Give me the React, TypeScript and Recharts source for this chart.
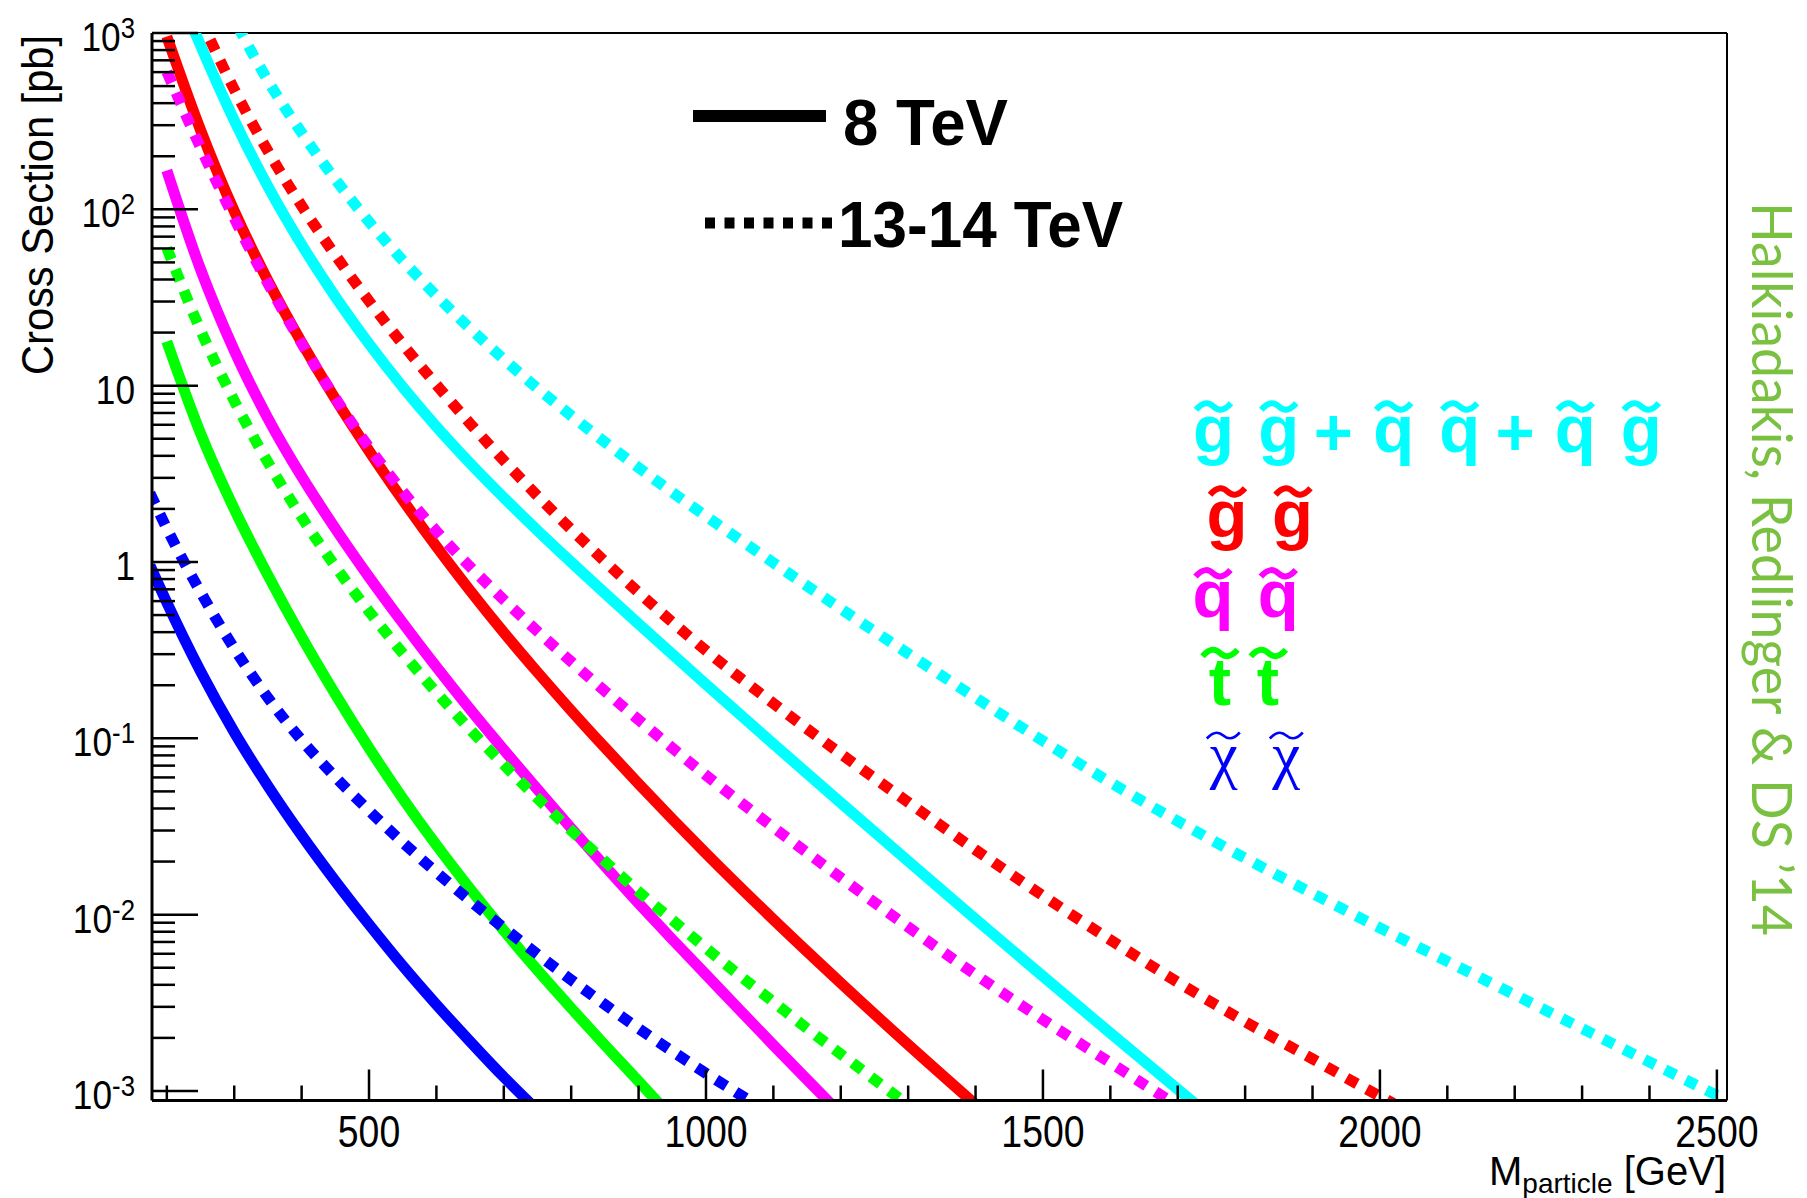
import { LineChart, Line, XAxis, YAxis, ReferenceLine } from 'recharts'

// SUSY pair production cross sections
// masses in GeV, cross sections in pb

// chargino/neutralino (blue)
const CHI8_M = [175, 200, 250, 300, 350, 400, 450, 500, 550, 600, 650, 700, 750]
const CHI8_XS = [0.955, 0.589, 0.24, 0.1084, 0.0537, 0.0282, 0.0155, 0.00881, 0.00513, 0.00309, 0.00191, 0.0012, 0.000776]
const CHI13_M = [175, 200, 250, 300, 350, 400, 450, 500, 550, 600, 650, 700, 750, 800, 850, 900, 950, 1000, 1050, 1080]
const CHI13_XS = [2.455, 1.549, 0.676, 0.3236, 0.1698, 0.0977, 0.0603, 0.0389, 0.0257, 0.01738, 0.012, 0.00841, 0.00596, 0.00427, 0.00309, 0.00226, 0.00168, 0.00126, 0.000955, 0.000813]

// stop (green)
const STOP8_M = [200, 250, 300, 350, 400, 450, 500, 550, 600, 650, 700, 750, 800, 850, 900, 930]
const STOP8_XS = [17.8, 5.37, 2.0, 0.841, 0.376, 0.178, 0.0881, 0.0457, 0.0248, 0.014, 0.00813, 0.00484, 0.00295, 0.00182, 0.001135, 0.000851]
const STOP13_M = [200, 250, 300, 350, 400, 450, 500, 550, 600, 650, 700, 750, 800, 850, 900, 950, 1000, 1050, 1100, 1150, 1200, 1250, 1300]
const STOP13_XS = [60.3, 20.65, 8.22, 3.673, 1.799, 0.944, 0.525, 0.304, 0.182, 0.1122, 0.0708, 0.0457, 0.03, 0.02007, 0.0135, 0.00933, 0.00646, 0.00452, 0.0032, 0.00226, 0.00162, 0.00116, 0.000832]

// squark (magenta)
const SQ8_M = [200, 250, 300, 350, 400, 450, 500, 550, 600, 650, 700, 750, 800, 850, 900, 950, 1000, 1050, 1100, 1150, 1200]
const SQ8_XS = [166, 45.7, 15.85, 6.53, 3.055, 1.549, 0.822, 0.452, 0.254, 0.1462, 0.0861, 0.0513, 0.0309, 0.01884, 0.01161, 0.00724, 0.00457, 0.00288, 0.00182, 0.00116, 0.000741]
const SQ13_M = [200, 250, 300, 350, 400, 450, 500, 550, 600, 650, 700, 800, 900, 1000, 1100, 1200, 1300, 1400, 1500, 1600, 1700]
const SQ13_XS = [603, 224, 89.1, 38.0, 17.4, 8.51, 4.467, 2.512, 1.496, 0.94, 0.61, 0.272, 0.1274, 0.0617, 0.03126, 0.0162, 0.00851, 0.00457, 0.00254, 0.001445, 0.000822]

// gluino (red)
const GL8_M = [200, 250, 300, 350, 400, 450, 500, 550, 600, 650, 700, 750, 800, 850, 900, 950, 1000, 1100, 1200, 1300, 1400]
const GL8_XS = [955, 282, 97.7, 39.4, 17.6, 8.41, 4.27, 2.25, 1.223, 0.688, 0.398, 0.237, 0.1437, 0.0886, 0.0553, 0.0349, 0.02226, 0.00939, 0.0041, 0.00183, 0.000837]
const GL13_M = [250, 300, 350, 400, 450, 500, 550, 600, 650, 700, 750, 800, 850, 900, 1000, 1100, 1200, 1300, 1400, 1500, 1600, 1700, 1800, 1900, 2000, 2020]
const GL13_XS = [1202, 479, 214, 104.7, 55.0, 30.2, 17.18, 10.12, 6.095, 3.758, 2.371, 1.531, 1.006, 0.672, 0.3145, 0.1576, 0.0817, 0.0434, 0.0233, 0.0128, 0.0072, 0.00414, 0.00247, 0.00152, 0.000933, 0.000851]

// gg + qq + qg (cyan)
const ALL8_M = [240, 250, 300, 350, 400, 450, 500, 550, 600, 650, 700, 750, 800, 900, 1000, 1100, 1200, 1300, 1400, 1500, 1600, 1700, 1730]
const ALL8_XS = [1047, 851, 320, 134.9, 63.1, 32.0, 17.28, 9.83, 5.855, 3.63, 2.317, 1.51, 0.998, 0.4457, 0.2023, 0.0929, 0.0431, 0.0201, 0.00944, 0.00447, 0.00213, 0.001023, 0.000822]
const ALL13_M = [305, 350, 400, 450, 500, 550, 600, 650, 700, 750, 800, 850, 900, 950, 1000, 1100, 1200, 1300, 1400, 1500, 1600, 1700, 1800, 1900, 2000, 2100, 2200, 2300, 2400, 2500]
const ALL13_XS = [1096, 537, 272, 147.9, 85.1, 51.3, 32.4, 21.1, 14.13, 9.66, 6.76, 4.786, 3.428, 2.483, 1.82, 0.989, 0.543, 0.302, 0.17, 0.0966, 0.0562, 0.0339, 0.0209, 0.0132, 0.00841, 0.00543, 0.00351, 0.00226, 0.00146, 0.000944]

const X_TICKS = [200, 300, 400, 500, 600, 700, 800, 900, 1000, 1100, 1200, 1300, 1400, 1500, 1600, 1700, 1800, 1900, 2000, 2100, 2200, 2300, 2400, 2500]
const Y_DECADES = [0.001, 0.01, 0.1, 1, 10, 100, 1000]
const Y_LABELS: Record<string, [string, string]> = {
  '0.001': ['10', '-3'],
  '0.01': ['10', '-2'],
  '0.1': ['10', '-1'],
  '1': ['1', ''],
  '10': ['10', ''],
  '100': ['10', '2'],
  '1000': ['10', '3'],
}

const X_MIN = 178
const X_MAX = 2515
const Y_MIN = 0.000883
const Y_MAX = 1000

// plot frame in page pixels
const W = 1807
const H = 1198
const LEFT = 152
const RIGHT = 1727
const TOP = 33
const BOTTOM = 1100.5

const BLUE = '#0000ff'
const GREEN = '#00ff00'
const MAGENTA = '#ff00ff'
const RED = '#ff0000'
const CYAN = '#00ffff'

const pts = (m: number[], xs: number[]) => m.map((v, i) => ({ m: v, xs: xs[i] }))

// solid (8 TeV) first, dotted (13-14 TeV) drawn on top
const SERIES = [
  { id: 'chi8', data: pts(CHI8_M, CHI8_XS), color: BLUE, dotted: false },
  { id: 'stop8', data: pts(STOP8_M, STOP8_XS), color: GREEN, dotted: false },
  { id: 'sq8', data: pts(SQ8_M, SQ8_XS), color: MAGENTA, dotted: false },
  { id: 'gl8', data: pts(GL8_M, GL8_XS), color: RED, dotted: false },
  { id: 'all8', data: pts(ALL8_M, ALL8_XS), color: CYAN, dotted: false },
  { id: 'chi13', data: pts(CHI13_M, CHI13_XS), color: BLUE, dotted: true },
  { id: 'stop13', data: pts(STOP13_M, STOP13_XS), color: GREEN, dotted: true },
  { id: 'sq13', data: pts(SQ13_M, SQ13_XS), color: MAGENTA, dotted: true },
  { id: 'gl13', data: pts(GL13_M, GL13_XS), color: RED, dotted: true },
  { id: 'all13', data: pts(ALL13_M, ALL13_XS), color: CYAN, dotted: true },
]

// decades plus 2..9 minor ticks
const Y_TICKS: number[] = []
Y_DECADES.forEach((d, i) => {
  Y_TICKS.push(d)
  if (i < Y_DECADES.length - 1) for (let k = 2; k <= 9; k++) Y_TICKS.push(+(d * k).toPrecision(3))
})

const FONT = '"Liberation Sans", Arial, Helvetica, sans-serif'
const SERIF = '"Liberation Serif", "Times New Roman", serif'

function YTick(props: any) {
  const { y, payload } = props
  const v = payload.value as number
  const lab = Y_LABELS[String(v)]
  const major = !!lab
  return (
    <g>
      <line x1={LEFT} x2={LEFT + (major ? 46 : 23)} y1={y} y2={y} stroke="#000" strokeWidth={2.5} />
      {major && (
        <g transform={`translate(135, ${y + 18}) scale(0.86, 1)`}>
          <text x={0} y={0} textAnchor="end" fontSize={41} fontFamily={FONT} fill="#000">
            {lab[0]}
            {lab[1] && <tspan fontSize={30} dy={-13}>{lab[1]}</tspan>}
          </text>
        </g>
      )}
    </g>
  )
}

function XTick(props: any) {
  const { x, payload } = props
  const v = payload.value as number
  const major = v % 500 === 0
  return (
    <g>
      <line x1={x} x2={x} y1={BOTTOM} y2={BOTTOM - (major ? 31 : 15)} stroke="#000" strokeWidth={2.5} />
      {major && (
        <g transform={`translate(${x}, 1147) scale(0.85, 1)`}>
          <text x={0} y={0} textAnchor="middle" fontSize={44} fontFamily={FONT} fill="#000">{v}</text>
        </g>
      )}
    </g>
  )
}

// wavy accent drawn above a letter
function tilde(cx: number, cy: number, hw: number, a: number) {
  return `M ${cx - hw} ${cy + a} C ${cx - hw * 0.55} ${cy - a * 1.7}, ${cx - hw * 0.25} ${cy - a * 1.2}, ${cx} ${cy} ` +
    `S ${cx + hw * 0.55} ${cy + a * 1.7}, ${cx + hw} ${cy - a}`
}

function Sym({ x, y, ch, color, ty, tx = x, serif = false }: { x: number; y: number; ch: string; color: string; ty: number; tx?: number; serif?: boolean }) {
  return (
    <g>
      <text x={x} y={y} textAnchor="middle" fill={color} fontFamily={serif ? SERIF : FONT}
        fontWeight={serif ? 400 : 700} fontSize={serif ? 63 : 67}>{ch}</text>
      <path d={tilde(tx, ty, serif ? 16.5 : 17.5, serif ? 3 : 3.3)} fill="none" stroke={color} strokeWidth={serif ? 2.6 : 6} />
    </g>
  )
}

function Plus({ x, y }: { x: number; y: number }) {
  return <text x={x} y={y} textAnchor="middle" fontSize={67} fontWeight={700} fontFamily={FONT} fill={CYAN}>+</text>
}

export default function App() {
  return (
    <div style={{ position: 'absolute', left: 0, top: 0, width: W, height: H, background: '#fff' }}>
      <LineChart width={W} height={H} margin={{ top: TOP, right: W - RIGHT, bottom: 0, left: 0 }}>
        <XAxis
          type="number"
          dataKey="m"
          domain={[X_MIN, X_MAX]}
          allowDataOverflow
          ticks={X_TICKS}
          interval={0}
          height={H - BOTTOM}
          tickLine={false}
          axisLine={{ stroke: '#000', strokeWidth: 3 }}
          tick={<XTick />}
        />
        <YAxis
          type="number"
          scale="log"
          domain={[Y_MIN, Y_MAX]}
          allowDataOverflow
          ticks={Y_TICKS}
          interval={0}
          width={LEFT}
          tickLine={false}
          axisLine={{ stroke: '#000', strokeWidth: 3 }}
          tick={<YTick />}
        />
        <ReferenceLine y={Y_MAX} stroke="#000" strokeWidth={2} />
        <ReferenceLine x={X_MAX} stroke="#000" strokeWidth={2} />
        {SERIES.map(s => (
          <Line
            key={s.id}
            data={s.data}
            dataKey="xs"
            type="monotone"
            stroke={s.color}
            strokeWidth={11}
            strokeDasharray={s.dotted ? '12 11' : undefined}
            dot={false}
            activeDot={false}
            isAnimationActive={false}
          />
        ))}
      </LineChart>

      <svg width={W} height={H} style={{ position: 'absolute', left: 0, top: 0, pointerEvents: 'none' }}>
        {/* axis titles */}
        <text x={53} y={375} transform="rotate(-90, 53, 375)" fontSize={44} fontFamily={FONT} textLength={340}
          lengthAdjust="spacingAndGlyphs" fill="#000">Cross Section [pb]</text>
        <text x={1726} y={1185} textAnchor="end" fontSize={40} fontFamily={FONT} fill="#000">
          M<tspan fontSize={28} dy={8}>particle</tspan><tspan dy={-8}> [GeV]</tspan>
        </text>

        {/* energy legend */}
        <line x1={693} x2={826} y1={116} y2={116} stroke="#000" strokeWidth={12} />
        <text x={843} y={145} fontSize={64} fontWeight={700} fontFamily={FONT} textLength={165}
          lengthAdjust="spacingAndGlyphs" fill="#000">8 TeV</text>
        <line x1={705} x2={832} y1={223} y2={223} stroke="#000" strokeWidth={11} strokeDasharray="10 9.5" />
        <text x={838} y={247} fontSize={64} fontWeight={700} fontFamily={FONT} textLength={285}
          lengthAdjust="spacingAndGlyphs" fill="#000">13-14 TeV</text>

        {/* process labels */}
        <Sym x={1213.5} y={452} ty={406.5} ch="g" color={CYAN} />
        <Sym x={1278.8} y={452} ty={406.5} ch="g" color={CYAN} />
        <Plus x={1333.3} y={455} />
        <Sym x={1393.7} y={452} ty={406.5} ch="q" color={CYAN} />
        <Sym x={1459.7} y={452} ty={406.5} ch="q" color={CYAN} />
        <Plus x={1515} y={455} />
        <Sym x={1575.3} y={452} ty={406.5} ch="q" color={CYAN} />
        <Sym x={1641.3} y={452} ty={406.5} ch="g" color={CYAN} />

        <Sym x={1227} y={537} ty={491.5} tx={1227.5} ch="g" color={RED} />
        <Sym x={1292.5} y={537} ty={491.5} tx={1293} ch="g" color={RED} />

        <Sym x={1213} y={617} ty={573.3} ch="q" color={MAGENTA} />
        <Sym x={1278.3} y={617} ty={573.3} ch="q" color={MAGENTA} />

        <Sym x={1220} y={705} ty={653} ch="t" color={GREEN} />
        <Sym x={1268} y={705} ty={653} tx={1268.3} ch="t" color={GREEN} />

        <Sym x={1223.7} y={776} ty={735.5} tx={1223.3} ch="χ" color={BLUE} serif />
        <Sym x={1286.3} y={776} ty={735.5} ch="χ" color={BLUE} serif />

        {/* credit */}
        <text x={1752} y={202} transform="rotate(90, 1752, 202)" fontSize={56} fontFamily="Lato, 'Open Sans', sans-serif"
          textLength={734} lengthAdjust="spacingAndGlyphs" fill="#7ac142">Halkiadakis, Redlinger &amp; DS ’14</text>
      </svg>
    </div>
  )
}
